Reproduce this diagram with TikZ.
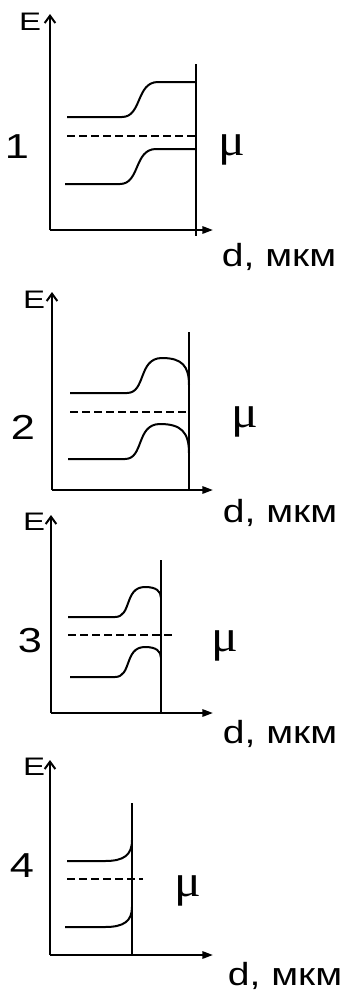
\documentclass[tikz,border=0pt]{standalone}
\usepackage{fontspec}
\setmainfont{Liberation Sans}
\newfontfamily\mufont{Liberation Serif}
\usetikzlibrary{arrows.meta}

\begin{document}
\begin{tikzpicture}[
  x=0.75pt, y=-0.75pt,
  axis/.style={line width=1.5pt, draw=black},
  yaxis/.style={axis, -{Straight Barb[length=5.5pt, width=8pt]}},
  xaxis/.style={axis, -{Triangle[length=8pt, width=5.5pt]}},
  wall/.style={line width=1.4pt, draw=black},
  band/.style={line width=1.5pt, draw=black},
  fermi/.style={line width=1.4pt, draw=black, dash pattern=on 6pt off 3pt},
  elbl/.style={font=\fontsize{19}{22}\selectfont, xscale=1.3, inner sep=0pt},
  numlbl/.style={font=\fontsize{26}{30}\selectfont, xscale=1.25, inner sep=0pt},
  mulbl/.style={font=\mufont\fontsize{34}{38}\selectfont, xscale=1.1, inner sep=0pt},
  dlbl/.style={font=\fontsize{24}{28}\selectfont, xscale=1.22, inner sep=0pt, anchor=base}
]
\useasboundingbox (0,0) rectangle (355,997);

% Panel 1
\coordinate (o1) at (50,230);
\coordinate (t1) at (50,14);
\coordinate (r1) at (213,230);
\coordinate (wt1) at (196,64);
\coordinate (wb1) at (196,236);
\draw[yaxis] (o1) -- (t1);
\draw[xaxis] (o1) -- (r1);
\draw[wall] (wt1) -- (wb1);
\draw[band] (67,117) -- (122,117) .. controls (142,117) and (136,82) .. (158,82) -- (196,82);
\draw[fermi] (67,136) -- (195,136);
\draw[band] (65,184) -- (120,184) .. controls (140,184) and (134,149) .. (156,149) -- (196,149);
\node[elbl] (e1) at (30,22) {E};
\node[numlbl] (n1) at (17,147) {1};
\node[mulbl] (mu1) at (232,150) {μ};
\node[dlbl] (d1) at (279,266) {d, мкм};

% Panel 2
\coordinate (o2) at (52,490);
\coordinate (t2) at (52,292);
\coordinate (r2) at (213,490);
\coordinate (wt2) at (189,332);
\coordinate (wb2) at (189,490);
\draw[yaxis] (o2) -- (t2);
\draw[xaxis] (o2) -- (r2);
\draw[wall] (wt2) -- (wb2);
\draw[band] (70,393) -- (127,393) .. controls (146,393) and (138,358) .. (162,358) .. controls (182,358) and (189,366) .. (189,385);
\draw[fermi] (70,412) -- (189,412);
\draw[band] (68,459) -- (125,459) .. controls (144,459) and (136,424) .. (160,424) .. controls (181,424) and (189,432) .. (189,453);
\node[elbl] (e2) at (34,300) {E};
\node[numlbl] (n2) at (23,427) {2};
\node[mulbl] (mu2) at (245,422) {μ};
\node[dlbl] (d2) at (280,522) {d, мкм};

% Panel 3
\coordinate (o3) at (51,713);
\coordinate (t3) at (51,515);
\coordinate (r3) at (213,713);
\coordinate (wt3) at (161,560);
\coordinate (wb3) at (161,713);
\draw[yaxis] (o3) -- (t3);
\draw[xaxis] (o3) -- (r3);
\draw[wall] (wt3) -- (wb3);
\draw[band] (68,617) -- (115,617) .. controls (132,617) and (124,587) .. (145,587) .. controls (156,587) and (161,591) .. (161,598);
\draw[fermi] (68,635) -- (172,635);
\draw[band] (70,677) -- (115,677) .. controls (132,677) and (124,647) .. (145,647) .. controls (156,647) and (161,651) .. (161,658);
\node[elbl] (e3) at (34,522) {E};
\node[numlbl] (n3) at (30,641) {3};
\node[mulbl] (mu3) at (225,646) {μ};
\node[dlbl] (d3) at (280,743) {d, мкм};

% Panel 4
\coordinate (o4) at (50,955);
\coordinate (t4) at (50,760);
\coordinate (r4) at (213,955);
\coordinate (wt4) at (132,803);
\coordinate (wb4) at (132,955);
\draw[yaxis] (o4) -- (t4);
\draw[xaxis] (o4) -- (r4);
\draw[wall] (wt4) -- (wb4);
\draw[band] (67,861) -- (105,861) .. controls (124,861) and (132,855) .. (132,840);
\draw[fermi] (67,879) -- (143,879);
\draw[band] (65,927) -- (105,927) .. controls (124,927) and (132,921) .. (132,907);
\node[elbl] (e4) at (34,767) {E};
\node[numlbl] (n4) at (22,866) {4};
\node[mulbl] (mu4) at (188,891) {μ};
\node[dlbl] (d4) at (285,985) {d, мкм};
\end{tikzpicture}
\end{document}
